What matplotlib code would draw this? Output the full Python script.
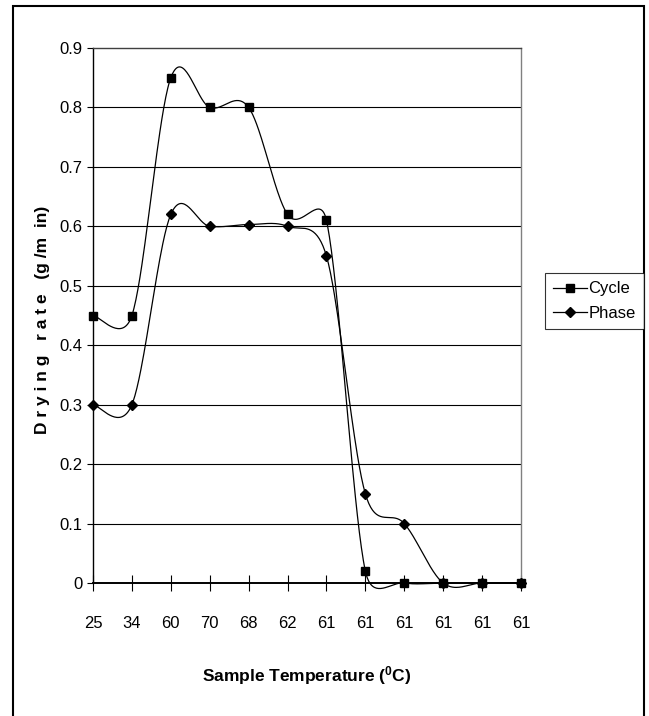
import numpy as np
import matplotlib
matplotlib.use('Agg')
import matplotlib.pyplot as plt
from matplotlib.lines import Line2D
from matplotlib.patches import Rectangle

plt.rcParams['font.family'] = ['Liberation Sans', 'DejaVu Sans']
plt.rcParams['mathtext.fontset'] = 'custom'
plt.rcParams['mathtext.rm'] = 'Liberation Sans'
plt.rcParams['mathtext.bf'] = 'Liberation Sans:bold'

# ---- data ----
temps = ['25', '34', '60', '70', '68', '62', '61', '61', '61', '61', '61', '61']
cycle = [0.45, 0.45, 0.85, 0.80, 0.80, 0.62, 0.61, 0.02, 0.0, 0.0, 0.0, 0.0]
phase = [0.30, 0.30, 0.62, 0.60, 0.603, 0.60, 0.55, 0.15, 0.10, 0.0, 0.0, 0.0]
yticks = [0, 0.1, 0.2, 0.3, 0.4, 0.5, 0.6, 0.7, 0.8, 0.9]

# pixel size of one unit on each axis (used so the smoothing works in screen space like Excel)
PX_X = 428 / 11
PX_Y = 535 / 0.9
ARM_CAP = 0.8   # control arm limited to this share of the segment length


def smooth(xs, ys, n=40):
    """Excel-like smoothed line: Catmull-Rom Bezier with capped control arms."""
    p = np.column_stack([np.asarray(xs) * PX_X, np.asarray(ys) * PX_Y]).astype(float)
    p = np.vstack([p[0], p, p[-1]])
    out = []
    t = np.linspace(0, 1, n)[:, None]
    for i in range(1, len(p) - 2):
        p0, p1, p2, p3 = p[i - 1], p[i], p[i + 1], p[i + 2]
        d12 = np.hypot(*(p2 - p1))
        a1 = (p2 - p0) / 6
        a2 = (p3 - p1) / 6
        for a in (a1, a2):
            la = np.hypot(*a)
            if la > d12 * ARM_CAP:
                a *= (d12 * ARM_CAP) / la
        c1 = p1 + a1
        c2 = p2 - a2
        seg = ((1 - t) ** 3) * p1 + 3 * ((1 - t) ** 2) * t * c1 + 3 * (1 - t) * t ** 2 * c2 + t ** 3 * p2
        out.append(seg)
    out = np.vstack(out)
    return out[:, 0] / PX_X, out[:, 1] / PX_Y


fig = plt.figure(figsize=(6.49, 7.16), dpi=100)
ax = fig.add_axes([93 / 649, 1 - 583 / 716, 428 / 649, 535 / 716])

x = np.arange(len(temps))

# gridlines
for v in yticks[1:-1]:
    ax.axhline(v, color='black', lw=0.8, zorder=1)

for vals, mk, ms in [(cycle, 's', 6), (phase, 'D', 5.5)]:
    sx, sy = smooth(x, vals)
    ax.plot(sx, sy, color='black', lw=0.9, zorder=3, clip_on=False)
    ax.plot(x, vals, linestyle='none', marker=mk, markersize=ms, color='black', zorder=4, clip_on=False)

ax.set_xlim(0, len(temps) - 1)
ax.set_ylim(0, 0.9)
ax.set_xticks(x)
ax.set_xticklabels(temps, fontsize=12)
ax.set_yticks(yticks)
ax.set_yticklabels([f'{v:g}' for v in yticks], fontsize=12)
ax.tick_params(axis='x', direction='inout', length=11, width=0.8, pad=18)
ax.tick_params(axis='y', direction='out', length=4.5, width=0.8, pad=3)

ax.spines['left'].set_linewidth(1.0)
ax.spines['bottom'].set_linewidth(1.4)
ax.spines['top'].set_color('#404040')
ax.spines['right'].set_color('#808080')
ax.spines['top'].set_linewidth(1.0)
ax.spines['right'].set_linewidth(1.0)

ax.set_xlabel(r'Sample Temperature ($\mathbf{^{0}}$C)', fontsize=12.5, fontweight='bold', labelpad=24)
fig.text(43 / 649, 1 - 320 / 716, 'D r y i n g   r a t e   (g /m  in)', rotation=90,
         ha='center', va='center', fontsize=12.5, fontweight='bold')

handles = [Line2D([], [], color='black', lw=0.9, marker='s', markersize=6),
           Line2D([], [], color='black', lw=0.9, marker='D', markersize=5.5)]
leg = fig.legend(handles, ['Cycle', 'Phase'], loc='upper left', bbox_to_anchor=(545 / 649, 1 - 273 / 716),
                 fontsize=12, frameon=True, fancybox=False, handlelength=2.0, handletextpad=0.1,
                 borderpad=0.5, labelspacing=0.55, borderaxespad=0)
leg.get_frame().set_edgecolor('black')
leg.get_frame().set_linewidth(0.8)

# outer chart frame
fig.patches.append(Rectangle((13 / 649, -0.01), 631 / 649, 1 - 6 / 716 + 0.01, transform=fig.transFigure,
                             fill=False, edgecolor='black', lw=1.5))

fig.savefig('out.png', dpi=100)
